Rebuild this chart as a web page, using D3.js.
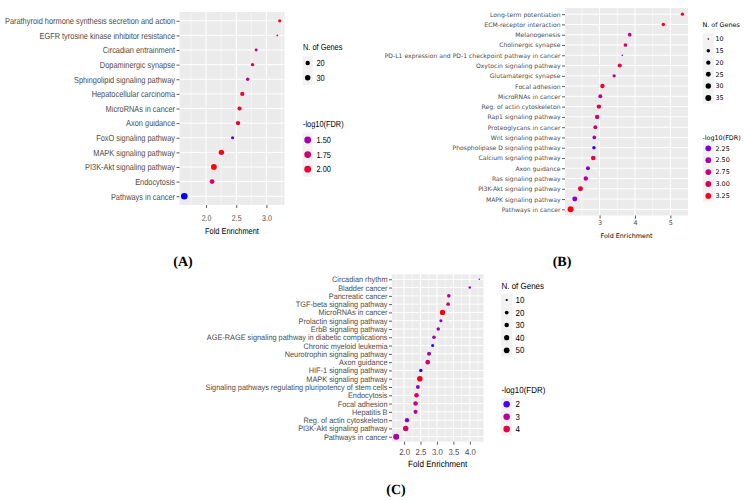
<!DOCTYPE html>
<html>
<head>
<meta charset="utf-8">
<script src="https://cdn.jsdelivr.net/npm/d3@7"></script>
<style>
  html, body { margin: 0; padding: 0; background: #fff; }
  svg { display: block; }
  text { text-rendering: geometricPrecision; }
</style>
</head>
<body>
<svg id="chart" width="744" height="501"></svg>
<script>
// ---------------- Panel A data ----------------
const aPathways = ["Parathyroid hormone synthesis secretion and action","EGFR tyrosine kinase inhibitor resistance","Circadian entrainment","Dopaminergic synapse","Sphingolipid signaling pathway","Hepatocellular carcinoma","MicroRNAs in cancer","Axon guidance","FoxO signaling pathway","MAPK signaling pathway","PI3K-Akt signaling pathway","Endocytosis","Pathways in cancer"];
const aFold    = [3.22, 3.18, 2.83, 2.77, 2.69, 2.60, 2.555, 2.53, 2.44, 2.255, 2.13, 2.10, 1.64];
const aGenes   = [13, 10, 12, 14, 14, 19, 19, 20, 13, 30, 34, 24, 45];
const aLogFDR  = [2.10, 1.80, 1.60, 1.95, 1.65, 2.00, 1.97, 2.02, 1.25, 2.12, 2.15, 1.78, 1.15];
const aTicks   = [2.0, 2.5, 3.0];
const aSizeLegend  = [20, 30];
const aColorLegend = [1.50, 1.75, 2.00];

// ---------------- Panel B data ----------------
const bPathways = ["Long-term potentiation","ECM-receptor interaction","Melanogenesis","Cholinergic synapse","PD-L1 expression and PD-1 checkpoint pathway in cancer","Oxytocin signaling pathway","Glutamatergic synapse","Focal adhesion","MicroRNAs in cancer","Reg. of actin cytoskeleton","Rap1 signaling pathway","Proteoglycans in cancer","Wnt signaling pathway","Phospholipase D signaling pathway","Calcium signaling pathway","Axon guidance","Ras signaling pathway","PI3K-Akt signaling pathway","MAPK signaling pathway","Pathways in cancer"];
const bFold    = [5.34, 4.80, 3.85, 3.73, 3.64, 3.57, 3.41, 3.08, 3.02, 2.98, 2.93, 2.88, 2.85, 2.84, 2.82, 2.67, 2.61, 2.46, 2.30, 2.18];
const bGenes   = [14, 15, 16, 16, 10, 19, 14, 21, 18, 21, 21, 18, 16, 15, 23, 18, 21, 26, 26, 37];
const bLogFDR  = [3.20, 3.20, 2.70, 2.85, 2.30, 3.10, 2.50, 3.20, 2.60, 3.00, 2.90, 2.85, 2.45, 2.05, 3.10, 2.30, 2.60, 3.10, 2.30, 3.30];
const bTicks   = [3, 4, 5];
const bSizeLegend  = [10, 15, 20, 25, 30, 35];
const bColorLegend = [2.25, 2.50, 2.75, 3.00, 3.25];

// ---------------- Panel C data ----------------
const cPathways = ["Circadian rhythm","Bladder cancer","Pancreatic cancer","TGF-beta signaling pathway","MicroRNAs in cancer","Prolactin signaling pathway","ErbB signaling pathway","AGE-RAGE signaling pathway in diabetic complications","Chronic myeloid leukemia","Neurotrophin signaling pathway","Axon guidance","HIF-1 signaling pathway","MAPK signaling pathway","Signaling pathways regulating pluripotency of stem cells","Endocytosis","Focal adhesion","Hepatitis B","Reg. of actin cytoskeleton","PI3K-Akt signaling pathway","Pathways in cancer"];
const cFold    = [4.29, 4.00, 3.36, 3.34, 3.17, 3.12, 3.04, 2.91, 2.87, 2.76, 2.72, 2.51, 2.48, 2.42, 2.38, 2.35, 2.35, 2.09, 2.05, 1.76];
const cGenes   = [9, 11, 19, 19, 44, 14, 17, 19, 14, 23, 31, 17, 48, 21, 31, 30, 24, 28, 46, 56];
const cLogFDR  = [2.5, 2.5, 3.0, 3.3, 4.4, 2.4, 2.5, 2.7, 1.9, 2.9, 3.5, 1.9, 4.4, 2.4, 3.7, 3.3, 2.9, 2.4, 3.5, 2.8];
const cTicks   = [2.0, 2.5, 3.0, 3.5, 4.0];
const cSizeLegend  = [10, 20, 30, 40, 50];
const cColorLegend = [2, 3, 4];

// ---------------- layout ----------------
const SANS = "'Liberation Sans',Arial,Helvetica,sans-serif";
const DEJAVU = "'DejaVu Sans',Verdana,sans-serif";

const panels = [
  { pathways: aPathways, fold: aFold, genes: aGenes, fdr: aLogFDR, ticks: aTicks,
    sizeLeg: aSizeLegend, colorLeg: aColorLegend,
    left: 179.5, right: 284.5, top: 12, bottom: 205,
    font: SANS, sx: 0.84, labelSx: 0.84, labelSize: 8.8, tickSize: 8.4, titleSize: 8.8, legTitle: 8.8, legText: 8.8,
    tickFmt: d3.format(".1f"), colFmt: d3.format(".2f"),
    rRange: [0.9, 3.3], colorDomain: [1.15, 2.15], colorKeyR: 3.4,
    xTickY: 220.5, xTitleY: 233.5,
    leg: { x: 303, sizeTitleY: 49.5, sizeYs: [63, 77.7], dotX: 307.7, textX: 316.5, keyW: 10, keyH: 14.6,
           colorTitleY: 126.5, colorYs: [140, 154.6, 169.2] },
    tag: "(A)", tagX: 183, tagY: 266 },
  { pathways: bPathways, fold: bFold, genes: bGenes, fdr: bLogFDR, ticks: bTicks,
    sizeLeg: bSizeLegend, colorLeg: bColorLegend,
    left: 565, right: 688, top: 8, bottom: 215.5,
    font: DEJAVU, sx: 1, labelSx: 1, labelSize: 6.1, tickSize: 6.4, titleSize: 6.4, legTitle: 6.4, legText: 6.4,
    tickFmt: d3.format("d"), colFmt: d3.format(".2f"),
    rRange: [0.8, 3.0], colorDomain: [2.0, 3.35], colorKeyR: 2.9,
    xTickY: 225, xTitleY: 238.3,
    leg: { x: 702.5, sizeTitleY: 27.3, sizeYs: [39, 50.7, 62.7, 74.3, 86, 98], dotX: 708.3, textX: 715.5, keyW: 11, keyH: 11.7,
           colorTitleY: 139.5, colorYs: [148.3, 160.2, 172.1, 184, 195.9] },
    tag: "(B)", tagX: 562, tagY: 266 },
  { pathways: cPathways, fold: cFold, genes: cGenes, fdr: cLogFDR, ticks: cTicks,
    sizeLeg: cSizeLegend, colorLeg: cColorLegend,
    left: 392, right: 483.5, top: 274.3, bottom: 441.7,
    font: SANS, sx: 0.905, labelSx: 0.93, labelSize: 7.9, tickSize: 8.6, titleSize: 9, legTitle: 8.8, legText: 8.8,
    tickFmt: d3.format(".1f"), colFmt: d3.format("d"),
    rRange: [0.8, 3.0], colorDomain: [1.85, 4.45], colorKeyR: 3.3,
    xTickY: 455, xTitleY: 466.8,
    leg: { x: 501.5, sizeTitleY: 288.8, sizeYs: [300, 312.6, 325.1, 337.7, 350.3], dotX: 506.7, textX: 515.5, keyW: 11, keyH: 12.6,
           colorTitleY: 393.3, colorYs: [404.3, 416.7, 429.1] },
    tag: "(C)", tagX: 396, tagY: 494 }
];

const svg = d3.select("#chart");

// horizontally condense a text selection (keeps its anchor position)
function condense(sel, sx) {
  if (sx === 1) return sel;
  sel.each(function () {
    const t = d3.select(this);
    const x0 = +(t.attr("x") || 0);
    t.attr("x", x0 / sx).attr("transform", `scale(${sx},1)`);
  });
  return sel;
}

function drawPanel(p) {
  const g = svg.append("g");
  const ext = d3.extent(p.fold);
  const pad = (ext[1] - ext[0]) * 0.05;
  const x = d3.scaleLinear().domain([ext[0] - pad, ext[1] + pad]).range([p.left, p.right]);
  const y = d3.scalePoint().domain(p.pathways).range([p.top, p.bottom]).padding(0.6);
  const nExt = d3.extent(p.genes);
  const nNorm = d3.scaleLinear().domain(nExt).range([0, 1]).clamp(true);
  const rLin = d3.scaleLinear().domain([0, 1]).range(p.rRange);
  const r = n => rLin(Math.sqrt(nNorm(n)));
  const color = d3.scaleLinear().domain(p.colorDomain).range(["#0000ff", "#ff0000"])
                  .interpolate(d3.interpolateLab).clamp(true);

  g.append("rect").attr("x", p.left).attr("y", p.top)
   .attr("width", p.right - p.left).attr("height", p.bottom - p.top).attr("fill", "#ebebeb");

  const step = p.ticks[1] - p.ticks[0];
  const minor = [p.ticks[0] - step / 2].concat(p.ticks.map(t => t + step / 2))
                  .filter(v => v > x.domain()[0] && v < x.domain()[1]);
  g.selectAll(".minor").data(minor).join("line")
   .attr("x1", d => x(d)).attr("x2", d => x(d)).attr("y1", p.top).attr("y2", p.bottom)
   .attr("stroke", "#fff").attr("stroke-width", 0.5);
  g.selectAll(".majorx").data(p.ticks).join("line")
   .attr("x1", d => x(d)).attr("x2", d => x(d)).attr("y1", p.top).attr("y2", p.bottom)
   .attr("stroke", "#fff").attr("stroke-width", 1);
  g.selectAll(".majory").data(p.pathways).join("line")
   .attr("x1", p.left).attr("x2", p.right).attr("y1", d => y(d)).attr("y2", d => y(d))
   .attr("stroke", "#fff").attr("stroke-width", 1);

  // y axis
  const ya = g.append("g").attr("transform", `translate(${p.left},0)`)
    .call(d3.axisLeft(y).tickSize(3).tickPadding(1.5));
  ya.attr("font-family", p.font);
  ya.select(".domain").remove();
  ya.selectAll(".tick line").attr("stroke", "#333").attr("stroke-width", 0.8);
  condense(ya.selectAll(".tick text").attr("fill", "#4d4d4d").attr("font-size", p.labelSize), p.labelSx);

  // x axis
  const xa = g.append("g").attr("transform", `translate(0,${p.bottom})`)
    .call(d3.axisBottom(x).tickValues(p.ticks).tickFormat(p.tickFmt).tickSize(3));
  xa.attr("font-family", p.font);
  xa.select(".domain").remove();
  xa.selectAll(".tick line").attr("stroke", "#333").attr("stroke-width", 0.8);
  condense(xa.selectAll(".tick text").attr("fill", "#4d4d4d").attr("font-size", p.tickSize)
    .attr("dy", null).attr("y", p.xTickY - p.bottom), p.sx);

  condense(g.append("text").attr("x", (p.left + p.right) / 2).attr("y", p.xTitleY)
   .attr("text-anchor", "middle").attr("font-family", p.font).attr("font-size", p.titleSize)
   .attr("fill", "#000").text("Fold Enrichment"), p.sx);

  // points
  g.selectAll(".pt").data(p.pathways.map((k, i) => ({ k, f: p.fold[i], n: p.genes[i], c: p.fdr[i] })))
   .join("circle")
   .attr("cx", d => x(d.f)).attr("cy", d => y(d.k)).attr("r", d => r(d.n))
   .attr("fill", d => color(d.c));

  // legends
  const L = p.leg;
  condense(g.append("text").attr("x", L.x).attr("y", L.sizeTitleY).attr("font-family", p.font)
   .attr("font-size", p.legTitle).text("N. of Genes"), p.sx);
  p.sizeLeg.forEach((v, i) => {
    const cy = L.sizeYs[i];
    g.append("rect").attr("x", L.dotX - L.keyW / 2).attr("y", cy - L.keyH / 2)
     .attr("width", L.keyW).attr("height", L.keyH).attr("fill", "#f2f2f2");
    g.append("circle").attr("cx", L.dotX).attr("cy", cy).attr("r", r(v)).attr("fill", "#000");
    condense(g.append("text").attr("x", L.textX).attr("y", cy).attr("dy", "0.35em")
     .attr("font-family", p.font).attr("font-size", p.legText).text(v), p.sx);
  });
  condense(g.append("text").attr("x", L.x).attr("y", L.colorTitleY).attr("font-family", p.font)
   .attr("font-size", p.legTitle).text("-log10(FDR)"), p.sx);
  p.colorLeg.forEach((v, i) => {
    const cy = L.colorYs[i];
    g.append("rect").attr("x", L.dotX - L.keyW / 2).attr("y", cy - L.keyH / 2)
     .attr("width", L.keyW).attr("height", L.keyH).attr("fill", "#f2f2f2");
    g.append("circle").attr("cx", L.dotX).attr("cy", cy).attr("r", p.colorKeyR).attr("fill", color(v));
    condense(g.append("text").attr("x", L.textX).attr("y", cy).attr("dy", "0.35em")
     .attr("font-family", p.font).attr("font-size", p.legText).text(p.colFmt(v)), p.sx);
  });

  svg.append("text").attr("x", p.tagX).attr("y", p.tagY).attr("text-anchor", "middle")
   .attr("font-family", "'Liberation Serif','Times New Roman',serif").attr("font-weight", "bold")
   .attr("font-size", 14).text(p.tag);
}

panels.forEach(drawPanel);
</script>
</body>
</html>
